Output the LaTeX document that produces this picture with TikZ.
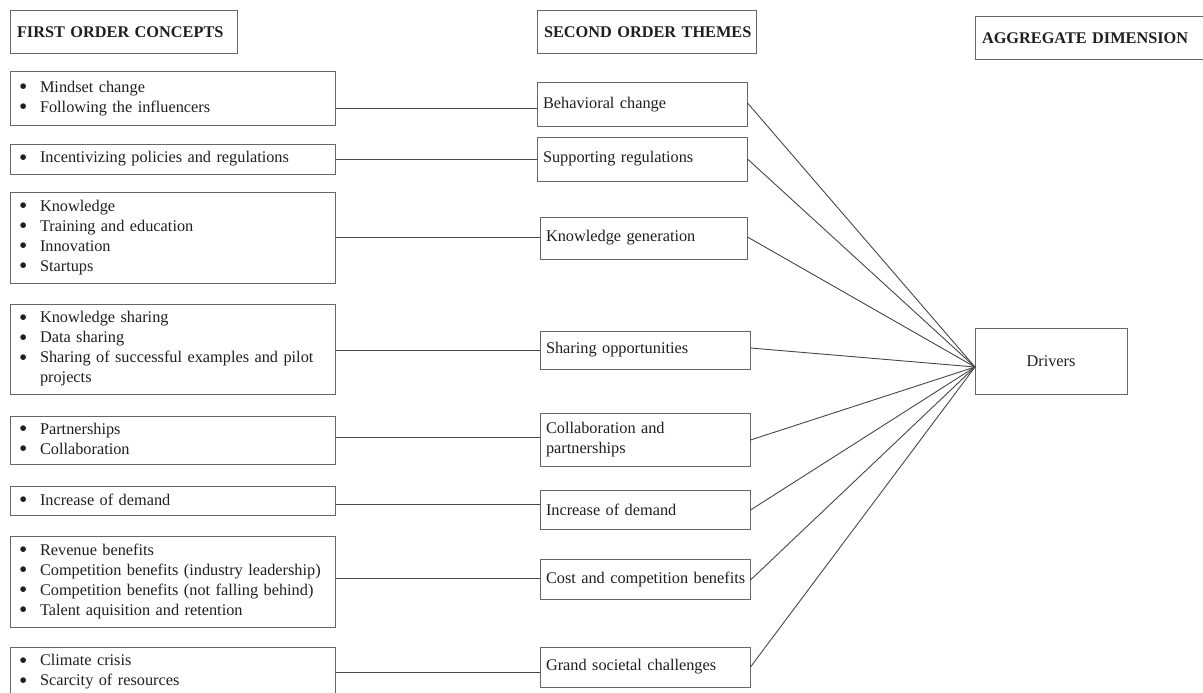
\documentclass[tikz,border=0pt]{standalone}
\usepackage{fontspec}
\setmainfont{Liberation Serif}
\newcommand{\itm}[1]{\makebox[20pt][l]{\hspace*{-1pt}\raisebox{-2.2pt}{\scalebox{1.45}{\textbullet}}}#1}
\begin{document}
\begin{tikzpicture}[x=1pt,y=-1pt,
  every node/.style={font=\fontsize{16.3}{20}\selectfont, text=black!88},
  frame/.style={draw=black!60, line width=1pt, rectangle},
  hdr/.style={frame, font=\fontsize{16.3}{20}\selectfont\bfseries, align=left, inner xsep=7pt, minimum height=43pt},
  lbox/.style={frame, align=left, text width=305pt, inner xsep=10pt, inner ysep=0pt},
  mbox/.style={frame, align=left, inner xsep=6pt, inner ysep=0pt},
  link/.style={draw=black!72, line width=0.9pt}]
\useasboundingbox (0,0) rectangle (1203,693);
\clip (0,0) rectangle (1203,693);

% column headers
\node[hdr, text width=213pt] (H1) at (123.5,32.5) {\mbox{FIRST ORDER CONCEPTS}};
\node[hdr, text width=205pt] (H2) at (646.5,32.5) {\mbox{SECOND ORDER THEMES}};
\node[hdr, text width=226pt] (H3) at (1095,38.5) {\mbox{AGGREGATE DIMENSION}};

% first order concepts
\node[lbox, minimum height=53pt] (L1) at (172.5,98.5) {\itm{Mindset change}\\\itm{Following the influencers}};
\node[lbox, minimum height=30pt] (L2) at (172.5,159) {\itm{Incentivizing policies and regulations}};
\node[lbox, minimum height=91pt] (L3) at (172.5,237.5) {\itm{Knowledge}\\\itm{Training and education}\\\itm{Innovation}\\\itm{Startups}};
\node[lbox, minimum height=90pt] (L4) at (172.5,349) {\itm{Knowledge sharing}\\\itm{Data sharing}\\\itm{Sharing of successful examples and pilot}\\\hspace*{20pt}projects};
\node[lbox, minimum height=48pt] (L5) at (172.5,440) {\itm{Partnerships}\\\itm{Collaboration}};
\node[lbox, minimum height=29pt] (L6) at (172.5,500.5) {\itm{Increase of demand}};
\node[lbox, minimum height=91pt] (L7) at (172.5,581.5) {\itm{Revenue benefits}\\\itm{Competition benefits (industry leadership)}\\\itm{Competition benefits (not falling behind)}\\\itm{Talent aquisition and retention}};
\node[lbox, minimum height=50pt] (L8) at (172.5,672) {\itm{Climate crisis}\\\itm{Scarcity of resources}};

% second order themes
\node[mbox, text width=198pt, minimum height=43pt] (M1) at (642,104.5) {Behavioral change};
\node[mbox, text width=198pt, minimum height=44pt] (M2) at (642,159) {Supporting regulations};
\node[mbox, text width=195pt, minimum height=42pt] (M3) at (643.5,238) {Knowledge generation};
\node[mbox, text width=198pt, minimum height=38pt] (M4) at (645,350) {Sharing opportunities};
\node[mbox, text width=198pt, minimum height=53pt] (M5) at (645,439.5) {Collaboration and\\partnerships};
\node[mbox, text width=198pt, minimum height=39pt] (M6) at (645,509.5) {Increase of demand};
\node[mbox, text width=198pt, minimum height=40pt] (M7) at (645,579) {\mbox{Cost and competition benefits}};
\node[mbox, text width=198pt, minimum height=40pt] (M8) at (645,667) {Grand societal challenges};

% aggregate dimension
\node[frame, minimum width=152pt, minimum height=66pt] (D) at (1051,361) {Drivers};
\coordinate (hub) at (975,367);

% row levels of the horizontal links
\coordinate (r1) at (0,108);
\coordinate (r2) at (0,159);
\coordinate (r3) at (0,237);
\coordinate (r4) at (0,350);
\coordinate (r5) at (0,437);
\coordinate (r6) at (0,504);
\coordinate (r7) at (0,578);
\coordinate (r8) at (0,672);
\foreach \i in {1,...,8}
  \draw[link] (L\i.east |- r\i) -- (M\i.west |- r\i);

% links from each theme to the aggregate dimension
\coordinate (s1) at (0,103);
\coordinate (s2) at (0,159);
\coordinate (s3) at (0,237);
\coordinate (s4) at (0,348);
\coordinate (s5) at (0,440);
\coordinate (s6) at (0,510);
\coordinate (s7) at (0,580);
\coordinate (s8) at (0,667);
\foreach \i in {1,...,8}
  \draw[link] (M\i.east |- s\i) -- (hub);
\end{tikzpicture}
\end{document}
